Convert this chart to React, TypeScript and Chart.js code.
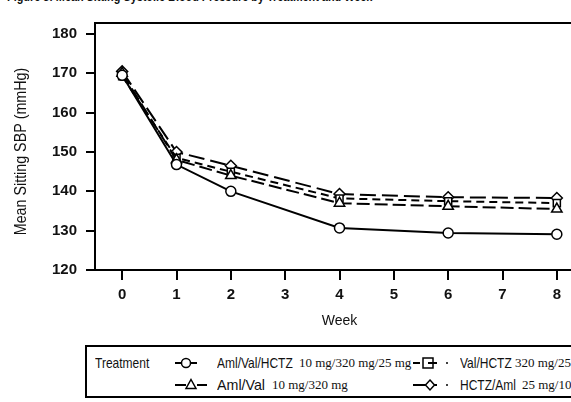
import React, { useEffect, useRef } from "react";
import { Chart, registerables } from "chart.js";

Chart.register(...registerables);

const weeks = [0, 1, 2, 4, 6, 8];
const amlValHctz = [169.5, 146.8, 140.0, 130.7, 129.4, 129.1];
const amlVal = [170.0, 148.0, 144.0, 137.0, 136.2, 135.5];
const valHctz = [169.3, 148.5, 145.0, 138.2, 137.5, 137.0];
const hctzAml = [170.5, 150.0, 146.5, 139.3, 138.5, 138.3];
const yTicks = [120, 130, 140, 150, 160, 170, 180];
const xTicks = [0, 1, 2, 3, 4, 5, 6, 7, 8];

const SANS = '"Liberation Sans", Arial, Helvetica, sans-serif';
const SERIF = '"Liberation Serif", "Times New Roman", serif';

const frame = {
  id: "frame",
  afterDatasetsDraw(chart: any) {
    const { ctx, chartArea } = chart;
    ctx.save();
    ctx.strokeStyle = "#000";
    ctx.lineWidth = 2;
    ctx.beginPath();
    ctx.moveTo(chartArea.left, chartArea.top);
    ctx.lineTo(chartArea.right, chartArea.top);
    ctx.lineTo(chartArea.right, chartArea.bottom);
    ctx.stroke();
    ctx.restore();
  },
  afterDraw(chart: any) {
    const { ctx } = chart;
    ctx.save();
    ctx.translate(21, 151.5);
    ctx.rotate(-Math.PI / 2);
    ctx.scale(0.84, 1);
    ctx.fillStyle = "#111";
    ctx.font = "17px " + SANS;
    ctx.textAlign = "center";
    ctx.textBaseline = "middle";
    ctx.fillText("Mean Sitting SBP (mmHg)", 0, 0);
    ctx.restore();
  },
};

function pts(vals: number[]) {
  return weeks.map((w, i) => ({ x: w, y: vals[i] }));
}

const narrow = (left: number, top: number, size: number, bold = false, sx = 0.8): React.CSSProperties => ({
  position: "absolute",
  left,
  top,
  fontFamily: SANS,
  fontSize: size,
  fontWeight: bold ? "bold" : "normal",
  lineHeight: "16px",
  whiteSpace: "nowrap",
  color: "#111",
  transform: `scaleX(${sx})`,
  transformOrigin: "0 0",
});
const serif = (left: number, top: number): React.CSSProperties => ({
  position: "absolute",
  left,
  top,
  fontFamily: SERIF,
  fontSize: 13,
  lineHeight: "16px",
  whiteSpace: "nowrap",
  color: "#111",
});

export default function App() {
  const ref = useRef<HTMLCanvasElement>(null);
  useEffect(() => {
    const c = ref.current;
    if (!c) return;
    const common = {
      borderColor: "#000",
      borderWidth: 2,
      pointBackgroundColor: "#fff",
      pointBorderColor: "#000",
      pointBorderWidth: 1.5,
      fill: false,
      tension: 0,
    };
    const chart = new Chart(c, {
      type: "line",
      data: {
        datasets: [
          { ...common, label: "Aml/Val/HCTZ 10 mg/320 mg/25 mg", data: pts(amlValHctz), pointStyle: "circle", pointRadius: 5 },
          { ...common, label: "Aml/Val 10 mg/320 mg", data: pts(amlVal), pointStyle: "triangle", pointRadius: 6, borderDash: [13, 5] },
          { ...common, label: "Val/HCTZ 320 mg/25 mg", data: pts(valHctz), pointStyle: "rect", pointRadius: 5, borderDash: [8, 5] },
          { ...common, label: "HCTZ/Aml 25 mg/10 mg", data: pts(hctzAml), pointStyle: "rectRot", pointRadius: 5.5, borderDash: [16, 6] },
        ],
      },
      options: {
        responsive: false,
        animation: false,
        layout: { padding: { top: 23, left: 0, right: 16, bottom: 0 } },
        plugins: { legend: { display: false }, tooltip: { enabled: false }, title: { display: false } },
        scales: {
          x: {
            type: "linear",
            min: -0.5,
            max: 8.5,
            afterFit: (s: any) => { s.height = 70; },
            afterBuildTicks: (s: any) => { s.ticks = xTicks.map((v) => ({ value: v })); },
            grid: { drawOnChartArea: false, drawTicks: true, tickLength: 10, color: "#000", lineWidth: 2 },
            border: { display: true, color: "#000", width: 2 },
            ticks: { color: "#111", padding: 6, font: { family: SANS, size: 15, weight: "bold" }, maxRotation: 0, autoSkip: false },
            title: { display: true, text: "Week", color: "#111", font: { family: SANS, size: 14 }, padding: { top: 0, bottom: 10 } },
          },
          y: {
            type: "linear",
            min: 120,
            max: 182.8,
            afterFit: (s: any) => { s.width = 95; },
            afterBuildTicks: (s: any) => { s.ticks = yTicks.map((v) => ({ value: v })); },
            grid: { drawOnChartArea: false, drawTicks: true, tickLength: 9, color: "#000", lineWidth: 2 },
            border: { display: true, color: "#000", width: 2 },
            ticks: { color: "#111", padding: 9, font: { family: SANS, size: 15, weight: "bold" }, autoSkip: false },
          },
        },
      },
      plugins: [frame],
    } as any);
    return () => chart.destroy();
  }, []);

  return (
    <div style={{ position: "fixed", left: 0, top: 0, width: 571, height: 402, overflow: "hidden", background: "#fff" }}>
      <div style={{ ...narrow(7, -10, 13, true, 0.835), lineHeight: "13px" }}>
        Figure 3: Mean Sitting Systolic Blood Pressure by Treatment and Week
      </div>
      <canvas ref={ref} width={600} height={340} style={{ position: "absolute", left: 0, top: 0, width: 600, height: 340 }} />
      <div style={{ position: "absolute", left: 85, top: 345, width: 540, height: 53, border: "2px solid #000", boxSizing: "border-box" }} />
      <div style={narrow(95, 355, 15)}>Treatment</div>
      <svg style={{ position: "absolute", left: 0, top: 340, overflow: "visible" }} width={571} height={60}>
        <g stroke="#000" strokeWidth={2} fill="#fff">
          <line x1={175} y1={23} x2={197} y2={23} />
          <circle cx={186} cy={23} r={4.5} strokeWidth={1.5} />
          <line x1={175} y1={45} x2={186} y2={45} />
          <line x1={197} y1={45} x2={207} y2={45} />
          <polygon points="191,39.5 196,48.5 186,48.5" strokeWidth={1.5} />
          <line x1={413} y1={23} x2={420} y2={23} />
          <line x1={428} y1={23} x2={437} y2={23} />
          <rect x={423} y={18} width={10} height={10} strokeWidth={1.5} fill="none" />
          <circle cx={447} cy={23} r={1} fill="#000" stroke="none" />
          <line x1={413} y1={45} x2={437} y2={45} />
          <polygon points="430,40 434.5,45 430,50 425.5,45" strokeWidth={1.5} />
          <circle cx={447} cy={45} r={1} fill="#000" stroke="none" />
        </g>
      </svg>
      <div style={narrow(217, 355, 15)}>Aml/Val/HCTZ</div>
      <div style={serif(299, 355)}>10 mg/320 mg/25 mg</div>
      <div style={narrow(460, 355, 15)}>Val/HCTZ</div>
      <div style={serif(515, 355)}>320 mg/25 mg</div>
      <div style={narrow(217, 377, 15, false, 0.95)}>Aml/Val</div>
      <div style={serif(272, 377)}>10 mg/320 mg</div>
      <div style={narrow(460, 377, 15)}>HCTZ/Aml</div>
      <div style={serif(522, 377)}>25 mg/10 mg</div>
    </div>
  );
}
